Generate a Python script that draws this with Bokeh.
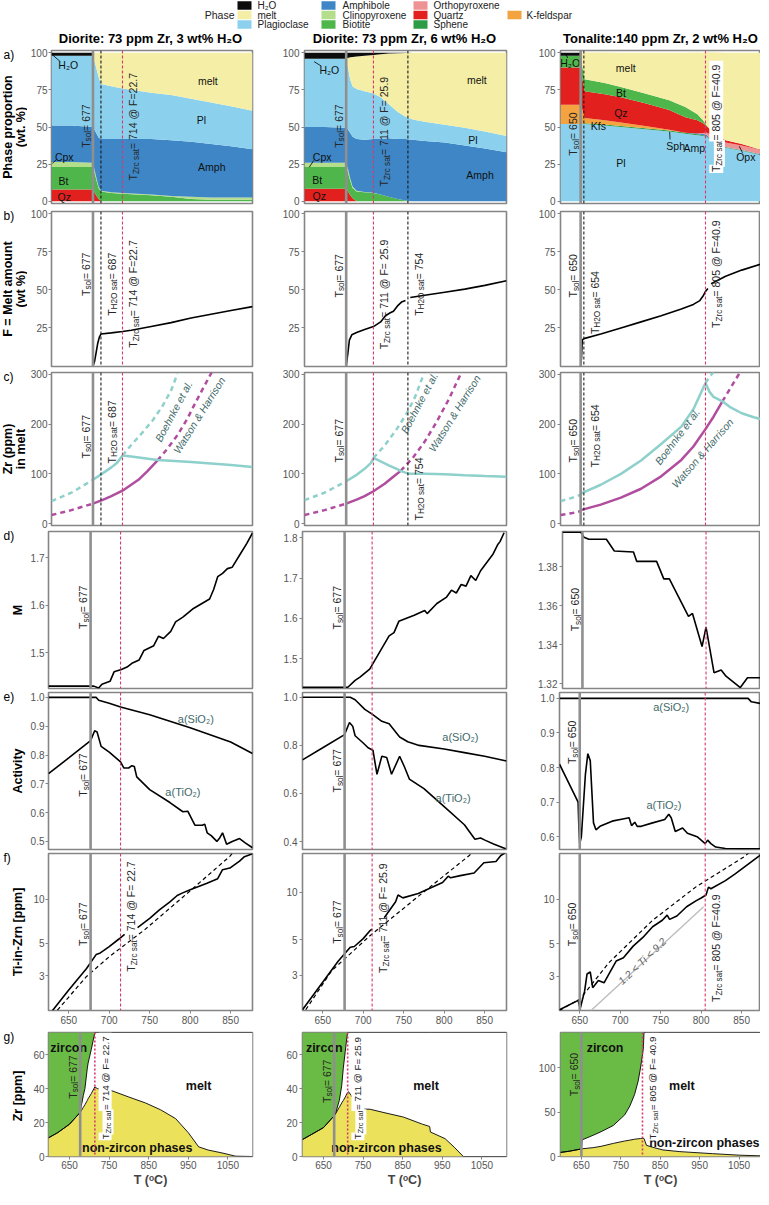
import numpy as np
from math import pi, sqrt
from bokeh.plotting import figure
from bokeh.layouts import column, row
from bokeh.models import Range1d, FixedTicker, PrintfTickFormatter, ColumnDataSource, Span
from bokeh.core.properties import value
from bokeh.embed import file_html
from bokeh.resources import INLINE

nan = float("nan")
FONT = "Liberation Sans"

# ---------------- colours ----------------
COL = {"H2O": "#0c0c0c", "melt": "#F5EEA6", "Pl": "#8BD1EE", "Amph": "#3E86C5",
       "Cpx": "#B4DE8C", "Bt": "#4FB64B", "Opx": "#EE9393", "Qz": "#E2211F",
       "Sph": "#2C9C45", "Kfs": "#F3A33F"}
TEAL = "#8ED0CB"; MAG = "#B04D9F"; RED = "#D8386B"; GREY = "#8F8F8F"
ZRC_GREEN = "#6ABB45"; NZ_YELLOW = "#ECE15B"; LTEAL = "#3F6A6A"; TXT = "#262626"

# ---------------- texts ----------------
TITLES = ["Diorite: 73 ppm Zr, 3 wt% H\u2082O", "Diorite: 73 ppm Zr, 6 wt% H\u2082O",
          "Tonalite:140 ppm Zr, 2 wt% H\u2082O"]
LEG_NAMES = ["H\u2082O", "melt", "Plagioclase", "Amphibole", "Clinopyroxene", "Biotite",
             "Orthopyroxene", "Quartz", "Sphene", "K-feldspar"]
LEG_KEYS = ["H2O", "melt", "Pl", "Amph", "Cpx", "Bt", "Opx", "Qz", "Sph", "Kfs"]
LEG_COLS = [0, 0, 0, 1, 1, 1, 2, 2, 2, 3]
LEG_ROWS = [0, 1, 2, 0, 1, 2, 0, 1, 2, 1]
ROW_LETTERS = ["a)", "b)", "c)", "d)", "e)", "f)", "g)"]
ROW_TITLES = [["Phase proportion", "(wt. %)"], ["F = Melt amount", "(wt %)"], ["Zr (ppm)", "in melt"],
              ["M"], ["Activity"], ["Ti-in-Zrn [ppm]"], ["Zr [ppm]"]]

TSOL = [677, 677, 650]
TH2O = [687, 754, 654]
TZRC = [714, 711, 805]

# ---------------- (a) phase proportions (wt%) ----------------
A1_T = [625, 650, 676, 678, 681, 684, 687, 700, 714, 750, 775, 800, 825, 850, 877]
A1 = {"Qz":   [8, 8, 8, 7, 4, 1.5, 0, 0, 0, 0, 0, 0, 0, 0, 0],
      "Bt":   [15, 15, 15, 14, 11, 7.5, 6.5, 5.5, 5, 4, 3, 1.5, 1, 1, 1],
      "Cpx":  [3.5, 3.5, 3, 2.5, 1.5, 1, 0.5, 0.5, 0.5, 0.5, 0.5, 1.5, 1.5, 1.5, 1.5],
      "Amph": [24.5, 24.5, 24, 25.5, 29.5, 33, 35, 36, 36.5, 37.5, 37.5, 37, 36, 34.5, 32.5],
      "Pl":   [47, 47, 48, 47, 44, 41, 37, 35.5, 34, 31, 30.5, 29, 28, 27, 26],
      "melt": [0, 0, 0, 4, 10, 16, 21, 22.5, 24, 27, 28.5, 31, 33.5, 36, 39],
      "H2O":  [2, 2, 2, 0, 0, 0, 0, 0, 0, 0, 0, 0, 0, 0, 0]}
A2_T = [625, 650, 676, 679, 682, 685, 690, 700, 711, 720, 730, 741, 751, 760, 775, 800, 825, 850, 877]
A2 = {"Qz":   [8.5, 8.5, 8.5, 7, 4, 2, 0, 0, 0, 0, 0, 0, 0, 0, 0, 0, 0, 0, 0],
      "Bt":   [14.5, 14.5, 14.5, 13, 10, 7, 6.5, 6, 5.5, 4.5, 3, 1.5, 0.5, 0, 0, 0, 0, 0, 0],
      "Cpx":  [3, 3, 3, 2.5, 1.5, 1, 0.5, 0.3, 0.2, 0, 0, 0, 0, 0, 0, 0, 0, 0, 0],
      "Amph": [24, 24, 23.5, 26, 30.5, 33.5, 35, 35.2, 36.3, 37.5, 39.5, 40.5, 41.5, 41.5, 40.5, 39.5, 37.5, 35.5, 33],
      "Pl":   [46, 46, 46.5, 42, 36, 33.7, 33.5, 32.5, 30.6, 28, 22.9, 18.2, 14.9, 13.5, 13, 12, 12, 11.5, 11],
      "melt": [0, 0, 0, 6, 15, 20, 22, 24, 25.9, 29, 34, 39.5, 43, 45, 46.5, 48.5, 50.5, 53, 56],
      "H2O":  [4, 4, 4, 3.5, 3, 2.8, 2.5, 2, 1.5, 1, 0.6, 0.3, 0.1, 0, 0, 0, 0, 0, 0]}
A3_T = [625, 649, 651, 655, 680, 700, 730, 760, 780, 795, 802, 806, 810, 830, 850, 874]
A3 = {"Pl":   [52, 52, 52, 52, 51, 50, 48.5, 47, 45.5, 44.5, 44, 43.5, 42, 36, 34, 31],
      "Sph":  [0, 0, 0, 0.6, 0.6, 0.6, 0.6, 0.6, 0.6, 0.6, 0.5, 0.3, 0.3, 0.3, 0.3, 0.3],
      "Amph": [0, 0, 0, 0, 0, 0, 0, 0, 0, 0.5, 1, 1, 0.5, 0.3, 0.3, 0.3],
      "Opx":  [0, 0, 0, 0, 0, 0, 0, 0, 0, 0, 0.5, 1.5, 2.5, 3, 3, 3],
      "Kfs":  [13, 13, 12, 3.5, 3, 2.5, 1.5, 0.5, 0, 0, 0, 0, 0, 0, 0, 0],
      "Qz":   [25, 25, 22, 18, 17.5, 16.9, 15.4, 13.4, 10.4, 9, 6.5, 4.5, 3.5, 1.5, 1, 0],
      "Bt":   [8, 8, 8, 8, 7.5, 7, 6.5, 6.5, 7, 4, 2, 0.5, 0, 0, 0, 0],
      "melt": [0, 0, 6, 18, 20.5, 23, 27.5, 32, 36.5, 41.5, 45.5, 49, 51.5, 58.9, 61.4, 65.4],
      "H2O":  [2, 2, 0, 0, 0, 0, 0, 0, 0, 0, 0, 0, 0, 0, 0, 0]}
A_ORDER = [["Qz", "Bt", "Cpx", "Amph", "Pl", "melt", "H2O"],
           ["Qz", "Bt", "Cpx", "Amph", "Pl", "melt", "H2O"],
           ["Pl", "Sph", "Amph", "Opx", "Kfs", "Qz", "Bt", "melt", "H2O"]]
# phase labels: (text, T, wt%)
A_LABELS = [[("H\u2082O", 646, 91.5), ("melt", 821, 81), ("Pl", 813, 55), ("Amph", 826, 23),
             ("Cpx", 641, 29.5), ("Bt", 640, 13.5), ("Qz", 641, 3)],
            [("H\u2082O", 656, 88.7), ("melt", 840, 81.6), ("Pl", 835, 41.5), ("Amph", 844, 17.7),
             ("Cpx", 647, 30), ("Bt", 641, 14), ("Qz", 643.5, 3.7)],
            [("H\u2082O", 637, 93), ("melt", 706, 90), ("Bt", 700, 73), ("Qz", 700, 59.7),
             ("Kfs", 672, 50.6), ("Sph", 768, 37), ("Amp", 791, 36), ("Opx", 855, 29.5), ("Pl", 700, 25.5)]]
A_LEADERS = [[(626, 98.7, 636, 94), (626, 25.5, 631, 28)],
             [(637, 94, 646, 91), (631, 23, 636.5, 27.4)],
             [(631, 99.5, 634, 96.5), (760.5, 46.8, 761, 41.6), (847, 37, 851, 32.6)]]

# ---------------- (b) melt fraction F ----------------
B_T = [[677, 679, 681, 683, 685, 687, 700, 714, 725, 750, 775, 800, 825, 850, 877],
       [677, 679, 681, 684, 690, 700, 711, 720, 726, 732, 736, 741, 746, 751, 754, 757, 775, 800, 825, 850, 877],
       [650, 651, 652, 654, 675, 700, 725, 750, 775, 790, 798, 802, 805, 808, 810, 812, 830, 850, 874]]
B_F = [[0, 3, 9, 15, 19, 21, 21.8, 22.7, 23.5, 26, 28.5, 31.5, 34, 36.5, 39],
       [0, 8, 17, 20.5, 22, 24, 25.9, 29, 33, 35, 36, 39.5, 42, 43, nan, 45, 46.5, 48.5, 50.5, 53, 56],
       [0, 5, 17, 18, 21, 25, 29, 33, 37.5, 40.5, 43, 46, 49, 51, nan, 54, 59, 63, 67]]

# ---------------- (c) Zr in melt ----------------
C_BO_LO_T = [[625, 650, 677], [625, 650, 677], [625, 640, 650]]
C_BO_LO = [[45, 62, 88], [47, 62, 85], [45, 52, 58]]
C_BO_SAT_T = [[677, 690, 700, 707, 714], [677, 690, 700, 708, 711], [650, 675, 700, 725, 750, 775, 790, 805]]
C_BO_SAT = [[88, 102, 113, 122, 137], [85, 98, 110, 122, 132], [60, 78, 100, 127, 160, 195, 230, 283]]
C_BO_HI_T = [[714, 725, 740, 752, 764, 775, 783], [711, 725, 740, 752, 763, 774], [805, 810, 815]]
C_BO_HI = [[137, 158, 185, 208, 236, 268, 302], [132, 157, 190, 220, 255, 302], [283, 295, 305]]
C_MELT_T = [[714, 725, 758, 800, 850, 877],
            [711, 720, 730, 740, 745, 750, 754, 756, 775, 800, 825, 850, 877],
            [805, 810, 815, 826, 835, 850, 865, 874]]
C_MELT = [[137, 135, 128, 124, 118, 114],
          [132, 125, 117, 110, 106, 103, 101, 100, 100, 99, 97, 95.5, 94],
          [283, 265, 255, 246, 235, 222, 214, 210]]
C_WH_LO_T = [[625, 650, 677], [625, 650, 677], [625, 640, 650]]
C_WH_LO = [[17, 27, 40], [17, 27, 40], [17, 21, 25]]
C_WH_SAT_T = [[677, 690, 700, 714, 734, 745, 758], [677, 690, 700, 711, 725, 735, 745],
              [650, 675, 700, 725, 750, 775, 790, 805, 815, 826]]
C_WH_SAT = [[40, 48, 55, 66, 88, 105, 127], [40, 48, 55, 65, 80, 93, 106],
            [27, 38, 52, 70, 95, 128, 155, 190, 215, 246]]
C_WH_HI_T = [[758, 770, 783, 795, 806, 816, 826], [745, 760, 775, 790, 805, 821], [826, 835, 847]]
C_WH_HI = [[127, 150, 178, 210, 245, 275, 305], [106, 132, 165, 205, 250, 305], [246, 270, 302]]
C_BO_LAB = [(778, 226, 62), (768, 243, 62), (770, 175, 53)]
C_WH_LAB = [(810, 218, 58), (812, 222, 58), (801, 142, 49)]

# ---------------- (d) M ----------------
D_T = [[625, 677, 681, 687, 691, 701, 706, 715, 722, 728, 737, 743, 755, 761, 767, 776, 782, 791, 803, 824, 829, 834, 840, 846, 852, 861, 870, 877],
       [625, 681, 690, 696, 708, 732, 738, 744, 763, 776, 779, 791, 803, 809, 815, 821, 827, 833, 839, 845, 851, 860, 866, 869, 874],
       [625, 648, 652, 658, 680, 690, 714, 718, 743, 752, 759, 783, 788, 800, 805, 815, 824, 830, 848, 857, 874]]
D_M = [[1.43, 1.43, 1.43, 1.426, 1.434, 1.44, 1.46, 1.465, 1.47, 1.478, 1.485, 1.505, 1.515, 1.535, 1.53, 1.545, 1.565, 1.575, 1.592, 1.613, 1.633, 1.66, 1.667, 1.677, 1.68, 1.705, 1.73, 1.752],
       [1.43, 1.43, 1.447, 1.455, 1.475, 1.557, 1.565, 1.593, 1.608, 1.62, 1.612, 1.637, 1.653, 1.67, 1.663, 1.684, 1.68, 1.706, 1.694, 1.718, 1.734, 1.758, 1.782, 1.79, 1.812],
       [1.3976, 1.3976, 1.395, 1.394, 1.394, 1.388, 1.3875, 1.3827, 1.3827, 1.3737, 1.3737, 1.3545, 1.356, 1.339, 1.349, 1.3256, 1.327, 1.3238, 1.318, 1.323, 1.323]]

# ---------------- (e) activities ----------------
E_SI_T = [[625, 684, 687, 700, 714, 750, 800, 850, 877],
          [625, 684, 690, 702, 711, 723, 732, 745, 755, 769, 800, 825, 850, 877],
          [625, 858, 862, 874]]
E_SI = [[1.0, 1.0, 0.99, 0.98, 0.967, 0.94, 0.895, 0.845, 0.805],
        [1.0, 1.0, 0.99, 0.95, 0.93, 0.90, 0.89, 0.835, 0.815, 0.80, 0.785, 0.77, 0.755, 0.735],
        [1.0, 1.0, 0.99, 0.985]]
E_TI_T = [[625, 650, 677, 682, 685, 690, 700, 714, 718, 724, 728, 731, 734, 750, 775, 791, 797, 806, 815, 818, 821, 826, 833, 836, 840, 845, 852, 861, 868, 877],
          [625, 650, 677, 683, 687, 690, 700, 706, 712, 717, 723, 729, 735, 745, 751, 757, 775, 800, 825, 838, 845, 851, 861, 876],
          [625, 648, 649, 650, 652, 657, 660, 663, 667, 670, 675, 690, 700, 711, 714, 718, 721, 726, 740, 755, 760, 763, 768, 777, 783, 795, 800, 805, 808, 812, 818, 830, 850, 874]]
E_TI = [[0.735, 0.79, 0.85, 0.884, 0.88, 0.83, 0.81, 0.776, 0.755, 0.755, 0.763, 0.76, 0.724, 0.68, 0.635, 0.603, 0.605, 0.556, 0.556, 0.56, 0.53, 0.52, 0.50, 0.51, 0.53, 0.49, 0.50, 0.51, 0.495, 0.478],
        [0.74, 0.79, 0.845, 0.895, 0.88, 0.84, 0.81, 0.79, 0.78, 0.68, 0.755, 0.75, 0.68, 0.755, 0.71, 0.66, 0.62, 0.545, 0.47, 0.41, 0.415, 0.405, 0.39, 0.37],
        [0.81, 0.70, 0.62, 0.58, 0.60, 0.78, 0.84, 0.82, 0.64, 0.62, 0.63, 0.645, 0.65, 0.655, 0.632, 0.642, 0.63, 0.63, 0.64, 0.65, 0.665, 0.655, 0.615, 0.625, 0.61, 0.60, 0.59, 0.58, 0.59, 0.58, 0.57, 0.566, 0.565, 0.565]]
E_SI_LAB = [(807, 0.925), (820, 0.833), (763, 0.974)]
E_TI_LAB = [(791, 0.672), (811, 0.583), (754, 0.693)]

# ---------------- (f) Ti-in-zircon ----------------
F_T = [[630, 650, 672, 684, 689, 700, 712, 719, 727, 735, 750, 762, 775, 784, 790, 800, 820, 834, 840, 849, 861, 867, 877],
       [625, 669, 684, 689, 700, 708, 711, 718, 726, 740, 743, 749, 768, 798, 805, 808, 820, 837, 849, 864, 870, 875],
       [625, 648, 650.5, 656, 659, 663, 666, 673, 680, 686, 695, 704, 716, 728, 740, 752, 758, 761, 770, 782, 794, 800, 806, 809, 812, 830, 842, 871, 874]]
F_TI = [[1.74, 2.4, 3.37, 4.2, 4.3, 4.75, 5.35, 5.75, nan, 6.4, 7.4, 8.45, 9.6, 10.6, 11.0, 11.6, 12.8, 13.8, 15.9, 16.3, 18.2, 19.5, 20.4],
        [1.82, 3.67, 4.5, 4.55, 5.1, 5.7, 5.85, nan, 6.9, 8.7, 9.6, 9.2, 9.8, 11.5, 12.6, 12.3, 12.7, 13.2, 15.3, 15.6, 17.0, 17.6],
        [1.77, 2.05, 1.8, 2.37, 3.1, 3.2, 2.5, 2.8, 2.7, 3.1, 3.8, 4.0, 4.8, 5.5, 6.5, 7.2, 7.8, 7.3, 7.7, 8.9, 9.8, 10.2, 10.7, 12.1, 11.8, 13.4, 14.9, 19.6, 20.2]]
FD_T = [[636, 672, 700, 744, 800, 849, 855], [629, 661, 708, 768, 831, 836], [625, 650.5, 686, 740, 794, 854, 860]]
FD_TI = [[1.75, 2.97, 4.05, 6.2, 11.4, 19.6, 21.5], [1.82, 3.2, 5.3, 9.4, 17.0, 18.0], [1.75, 2.1, 3.7, 7.2, 12.2, 19.6, 21]]
F_RANGE_T = [664, 803]
F_RANGE_TI = [1.75, 8.9]

# ---------------- (g) Zr budget ----------------
G_T = [[597, 620, 650, 677, 680, 685, 689, 695, 697, 705, 714, 720, 730, 757, 800, 842, 880, 918, 950, 976, 1000, 1035, 1069, 1112],
       [597, 620, 650, 677, 680, 690, 696, 700, 705, 709, 711, 713, 720, 726, 739, 741, 768, 800, 852, 900, 918, 920, 957, 980, 1003, 1112],
       [597, 620, 647, 650, 652, 680, 700, 731, 760, 773, 785, 794, 800, 807, 809, 815, 830, 857, 900, 983, 1050, 1107]]
G_NZ = [[11, 14, 19, 26, 27, 29, 30.5, 33, 34, 37, 41, 40, 39.5, 38.7, 35, 31.5, 27.5, 22.3, 14, 5.7, 3.8, 2.1, 0.2, 0],
        [10, 13, 17, 24, 25, 29, 31.5, 33, 35, 37, 37.5, 38.2, 36, 33.4, 27.8, 28, 27.8, 26, 23.2, 19, 17.7, 14.4, 10.5, 5.5, 0, 0],
        [4.6, 6, 8.3, 8.5, 8.7, 10, 11.5, 14.8, 17.5, 18.5, 19.5, 20, 20.3, 20.5, 20.3, 12.7, 10.5, 7.4, 5.5, 3.2, 1.5, 0.7]]
G_MELT = [[0, 0, 0, 0, 3, 7, 9.5, 19, 21, 26, 32, 33, 33.5, 34.3, 38, 41.5, 45.5, 50.7, 59, 67.3, 69.2, 70.9, 72.8, 73],
          [0, 0, 0, 0, 0, 4, 10.2, 19, 27, 33, 35.5, 34.8, 37, 39.6, 45.2, 45, 45.2, 47, 49.8, 54, 55.3, 58.6, 62.5, 67.5, 73, 73],
          [0, 0, 0, 0, 10.1, 14, 16.5, 20.2, 29.5, 38.5, 50.5, 65, 79.7, 100.5, 119.7, 127.3, 129.5, 132.6, 134.5, 136.8, 138.5, 139.3]]
G_ZRC = [[62, 59, 54, 47, 43, 37, 33, 21, 18, 10, 0, 0, 0, 0, 0, 0, 0, 0, 0, 0, 0, 0, 0, 0],
         [63, 60, 56, 49, 48, 40, 31.3, 21, 11, 3, 0, 0, 0, 0, 0, 0, 0, 0, 0, 0, 0, 0, 0, 0, 0, 0],
         [135.4, 134, 131.7, 131.5, 121.2, 116, 112, 105, 93, 83, 70, 55, 40, 19, 0, 0, 0, 0, 0, 0, 0, 0]]
G_LABELS = [[("zircon", 648, 63.6), ("melt", 976, 41.6), ("non-zircon phases", 821, 5.2)],
            [("zircon", 652, 63.6), ("melt", 909, 41.6), ("non-zircon phases", 809, 5.2)],
            [("zircon", 710, 122), ("melt", 905, 80), ("non-zircon phases", 962, 14.8)]]

# ---------------- layout geometry ----------------
GUTTER_W = 27
WIDTHS = [252, 256, 225]
LB = [21, 23, 24]
RB = [27, 29, 0]
XR = [(625, 877), (625, 877), (625, 873.3)]
XRG = [(597, 1112), (597, 1112), (597, 1104.5)]
ROW_H = [161, 161, 161, 161, 161, 176, 162]
ROW_TOPB = [4, 4, 4, 2, 2, 2, 5]
ROW_BOTB = [4, 2, 4, 2, 2, 17, 30]
ROW_FRAME_H = [153, 155, 153, 157, 157, 157, 127]

# character widths (Arial metrics, 1/1000 em)
CW = {' ': 278, '=': 584, '@': 1015, '.': 278, 'T': 611, 'F': 611, 'Z': 611, 'H': 722, 'O': 778,
      'r': 333, 'c': 500, 's': 500, 'a': 556, 't': 278, 'o': 556, 'l': 222, 'i': 222}


def tw(s, fs):
    return sum(CW.get(ch, 556) for ch in s) * fs / 1000.0


def mkfig(ci, k, xr, yr, ylog=False, xaxis=False):
    p = figure(width=WIDTHS[ci], height=ROW_H[k], title=None,
               x_range=Range1d(*xr), y_range=Range1d(*yr),
               y_axis_type=("log" if ylog else "linear"),
               x_axis_location=("below" if xaxis else None),
               output_backend="svg", toolbar_location=None,
               min_border_left=LB[ci], min_border_right=RB[ci],
               min_border_top=ROW_TOPB[k], min_border_bottom=ROW_BOTB[k])
    p.grid.visible = False
    p.outline_line_color = "#858585"
    p.outline_line_width = 1.6
    p.background_fill_color = "white"
    p.border_fill_color = "white"
    for ax in p.axis:
        ax.axis_line_color = None
        ax.major_tick_line_color = "#858585"
        ax.major_tick_out = 3
        ax.major_tick_in = 0
        ax.minor_tick_line_color = None
        ax.major_label_text_font = FONT
        ax.major_label_text_font_size = "10px"
        ax.major_label_text_color = "#555555"
        ax.major_label_standoff = 2
    if ci == 0:
        p.yaxis.major_label_standoff = 1
    return p


def vlines(p, ci, h2o=True, gpanel=False):
    p.add_layout(Span(location=TSOL[ci], dimension="height", line_color=GREY, line_width=2.6))
    if h2o:
        p.add_layout(Span(location=TH2O[ci], dimension="height", line_color="#1a1a1a",
                          line_width=1.1, line_dash="3 2"))
    p.add_layout(Span(location=TZRC[ci], dimension="height", line_color=RED,
                      line_width=(1.6 if gpanel else 1.1), line_dash=("2 2" if gpanel else "3 2")))


def vlabel(p, x, y, parts, side="right", fs=10.5, color=TXT, bg=False, gap=3):
    sub = fs * 0.78
    if side == "right":
        base = gap + 0.74 * fs
    else:
        base = -(gap + 0.42 * fs)
    cum = 0.0
    for txt, is_sub in parts:
        size = sub if is_sub else fs
        xo = base + (0.3 * fs if is_sub else 0.0)
        kw = {}
        if bg:
            kw = dict(background_fill_color="white", padding=1)
        p.text(x=[x], y=[y], text=[txt], angle=pi / 2, x_offset=xo, y_offset=-cum,
               text_align="left", text_baseline="alphabetic", text_font=value(FONT),
               text_font_size="%.1fpx" % size, text_color=color, **kw)
        cum += tw(txt, size)


def tsol_parts(ci):
    return [("T", 0), ("sol", 1), ("= %d" % TSOL[ci], 0)]


def tzrc_parts(ci, ftxt):
    return [("T", 0), ("Zrc sat", 1), (" = %d @ %s" % (TZRC[ci], ftxt), 0)]


def th2o_parts(ci):
    return [("T", 0), ("H2O sat", 1), (" = %d" % TH2O[ci], 0)]


def htext(p, x, y, t, fs="10.5px", color="black", bold=False, italic=False, angle=0.0, align="center"):
    style = "bold" if bold else ("italic" if italic else "normal")
    p.text(x=[x], y=[y], text=[t], angle=angle, text_align=align, text_baseline="middle",
           text_font=value(FONT), text_font_size=fs, text_color=color, text_font_style=style)


def yticks(p, ticks, fmt=None):
    p.yaxis.ticker = FixedTicker(ticks=ticks, minor_ticks=[])
    if fmt:
        p.yaxis.formatter = PrintfTickFormatter(format=fmt)


rows = []

# ---------------- header (legend + titles) ----------------
hdr = figure(width=760, height=46, x_range=Range1d(0, 760), y_range=Range1d(46, 0), title=None,
             output_backend="svg", toolbar_location=None, min_border=0,
             x_axis_location=None, y_axis_location=None)
hdr.grid.visible = False
hdr.outline_line_color = None
SW_X = [244, 328, 420, 514]
TX_X = [257, 342, 433, 526]
ROW_Y = [5, 14.5, 24]
hdr.rect(x=[SW_X[c] for c in LEG_COLS], y=[ROW_Y[r] for r in LEG_ROWS], width=14, height=8.5,
         fill_color=[COL[k] for k in LEG_KEYS], line_color=None)
hdr.text(x=[TX_X[c] for c in LEG_COLS], y=[ROW_Y[r] for r in LEG_ROWS], text=LEG_NAMES,
         text_align="left", text_baseline="middle", text_font=value(FONT), text_font_size="10px",
         text_color="#222222")
hdr.text(x=[234], y=[14.5], text=["Phase"], text_align="right", text_baseline="middle",
         text_font=value(FONT), text_font_size="10.5px", text_color="#222222")
hdr.text(x=[150, 404, 660], y=[38, 38, 38], text=TITLES, text_align="center", text_baseline="middle",
         text_font=value(FONT), text_font_size="13px", text_font_style="bold", text_color="black")

# ---------------- left gutter: row letters and y titles ----------------
GH = sum(ROW_H)
gut = figure(width=GUTTER_W, height=GH, x_range=Range1d(0, GUTTER_W), y_range=Range1d(GH, 0), title=None,
             output_backend="svg", toolbar_location=None, min_border=0,
             x_axis_location=None, y_axis_location=None)
gut.grid.visible = False
gut.outline_line_color = None
top = 0
for k in range(7):
    ftop = top + ROW_TOPB[k]
    fmid = ftop + ROW_FRAME_H[k] / 2.0
    gut.text(x=[3], y=[ftop + 4], text=[ROW_LETTERS[k]], text_align="left", text_baseline="middle",
             text_font=value(FONT), text_font_size="12px", text_color="black")
    lines = ROW_TITLES[k]
    xs = [17] if len(lines) == 1 else [7.5, 20]
    for t, xx in zip(lines, xs):
        gut.text(x=[xx], y=[fmid], text=[t], angle=pi / 2, text_align="center", text_baseline="middle",
                 text_font=value(FONT), text_font_size="12.5px", text_font_style="bold", text_color="black")
    top += ROW_H[k]

# ---------------- row a ----------------
ra = []
FZ_A = ["F=22.7", "F= 25.9", "F=40.9"]
A_TS = [A1_T, A2_T, A3_T]
A_DS = [A1, A2, A3]
A_TSOL_Y = [36, 36, 30.6]
A_TZRC_Y = [14, 10, 19]
for ci in range(3):
    yr = (-1.5, 101.5)
    p = mkfig(ci, 0, XR[ci], yr)
    yticks(p, [0, 25, 50, 75, 100])
    d = dict(A_DS[ci]); d["T"] = A_TS[ci]
    src = ColumnDataSource(d)
    p.varea_stack(stackers=A_ORDER[ci], x="T", color=[COL[k] for k in A_ORDER[ci]], source=src)
    vlines(p, ci)
    for (x0, y0, x1, y1) in A_LEADERS[ci]:
        p.segment(x0=[x0], y0=[y0], x1=[x1], y1=[y1], line_color="black", line_width=0.8)
    for (t, x, y) in A_LABELS[ci]:
        htext(p, x, y, t, fs="10.5px", color="#111111")
    vlabel(p, TSOL[ci], A_TSOL_Y[ci], tsol_parts(ci), side="left")
    vlabel(p, TZRC[ci], A_TZRC_Y[ci], tzrc_parts(ci, FZ_A[ci]), side="right", bg=(ci == 2))
    ra.append(p)
rows.append(row(*ra))

# ---------------- row b ----------------
rb = []
FZ_B = ["F=22.7", "F= 25.9", "F=40.9"]
B_TSOL_Y = [46, 45, 45]
B_TH2O_Y = [33, 33, 21]
B_TZRC_Y = [12, 11, 25]
for ci in range(3):
    yr = (-0.3, 101.5)
    p = mkfig(ci, 1, XR[ci], yr)
    yticks(p, [25, 50, 75, 100])
    vlines(p, ci)
    p.line(B_T[ci], B_F[ci], line_color="black", line_width=1.6)
    vlabel(p, TSOL[ci], B_TSOL_Y[ci], tsol_parts(ci), side="left")
    vlabel(p, TH2O[ci], B_TH2O_Y[ci], th2o_parts(ci), side="right")
    vlabel(p, TZRC[ci], B_TZRC_Y[ci], tzrc_parts(ci, FZ_B[ci]), side="right")
    rb.append(p)
rows.append(row(*rb))

# ---------------- row c ----------------
rc = []
C_TSOL_Y = [131, 123, 123]
C_TH2O_Y = [121, 6, 113]
for ci in range(3):
    yr = (-4, 304)
    p = mkfig(ci, 2, XR[ci], yr)
    yticks(p, [0, 100, 200, 300])
    vlines(p, ci)
    p.line(C_BO_LO_T[ci], C_BO_LO[ci], line_color=TEAL, line_width=2.5, line_dash="5 4")
    p.line(C_BO_HI_T[ci], C_BO_HI[ci], line_color=TEAL, line_width=2.5, line_dash="5 4")
    p.line(C_WH_LO_T[ci], C_WH_LO[ci], line_color=MAG, line_width=2.5, line_dash="5 4")
    p.line(C_WH_HI_T[ci], C_WH_HI[ci], line_color=MAG, line_width=2.5, line_dash="5 4")
    p.line(C_WH_SAT_T[ci], C_WH_SAT[ci], line_color=MAG, line_width=2.5)
    p.line(C_BO_SAT_T[ci], C_BO_SAT[ci], line_color=TEAL, line_width=2.5)
    p.line(C_MELT_T[ci], C_MELT[ci], line_color=TEAL, line_width=2.5)
    bx, by, ba = C_BO_LAB[ci]
    htext(p, bx, by, "Boehnke et al.", fs="10.5px", color=LTEAL, italic=True, angle=ba * pi / 180)
    wx, wy, wa = C_WH_LAB[ci]
    htext(p, wx, wy, "Watson & Harrison", fs="10.5px", color=LTEAL, italic=True, angle=wa * pi / 180)
    vlabel(p, TSOL[ci], C_TSOL_Y[ci], tsol_parts(ci), side="left")
    vlabel(p, TH2O[ci], C_TH2O_Y[ci], th2o_parts(ci), side="right")
    rc.append(p)
rows.append(row(*rc))

# ---------------- row d ----------------
rd = []
D_YR = [(1.425, 1.755), (1.427, 1.815), (1.3175, 1.398)]
D_TICKS = [[1.5, 1.6, 1.7], [1.5, 1.6, 1.7, 1.8], [1.32, 1.34, 1.36, 1.38]]
D_TSOL_Y = [1.55, 1.573, 1.3468]
for ci in range(3):
    p = mkfig(ci, 3, XR[ci], D_YR[ci])
    yticks(p, D_TICKS[ci])
    vlines(p, ci, h2o=False)
    p.line(D_T[ci], D_M[ci], line_color="black", line_width=1.6)
    vlabel(p, TSOL[ci], D_TSOL_Y[ci], tsol_parts(ci), side="left")
    rd.append(p)
rows.append(row(*rd))

# ---------------- row e ----------------
re_ = []
E_YR = [(0.472, 1.017), (0.367, 1.02), (0.563, 1.017)]
E_TICKS = [[0.5, 0.6, 0.7, 0.8, 0.9, 1.0], [0.4, 0.6, 0.8, 1.0], [0.6, 0.7, 0.8, 0.9, 1.0]]
E_TSOL_Y = [0.655, 0.604, 0.81]
for ci in range(3):
    p = mkfig(ci, 4, XR[ci], E_YR[ci])
    yticks(p, E_TICKS[ci], fmt="%.1f")
    vlines(p, ci, h2o=False)
    p.line(E_SI_T[ci], E_SI[ci], line_color="black", line_width=1.6)
    p.line(E_TI_T[ci], E_TI[ci], line_color="black", line_width=1.6)
    sx, sy = E_SI_LAB[ci]
    htext(p, sx, sy, "a(SiO\u2082)", fs="11px", color=LTEAL)
    tx, ty = E_TI_LAB[ci]
    htext(p, tx, ty, "a(TiO\u2082)", fs="11px", color=LTEAL)
    vlabel(p, TSOL[ci], E_TSOL_Y[ci], tsol_parts(ci), side="left")
    re_.append(p)
rows.append(row(*re_))

# ---------------- row f ----------------
rf = []
F_YR = [(1.74, 20.5), (1.8, 17.5), (1.75, 20.5)]
FZ_F = ["F= 22.7", "F= 25.9", "F=40.9"]
F_TSOL_Y = [4.8, 4.73, 4.8]
F_TZRC_Y = [3.2, 3.1, 2.0]
for ci in range(3):
    p = mkfig(ci, 5, XR[ci], F_YR[ci], ylog=True, xaxis=True)
    yticks(p, [3, 5, 10], fmt="%d")
    p.xaxis.ticker = FixedTicker(ticks=[650, 700, 750, 800, 850], minor_ticks=[])
    vlines(p, ci, h2o=False)
    if ci == 2:
        p.line(F_RANGE_T, F_RANGE_TI, line_color="#bdbdbd", line_width=1.4)
        htext(p, 727, 3.8, "1.2 < Ti < 9.2", fs="10.5px", color="#666666", italic=True, angle=44 * pi / 180)
    p.line(FD_T[ci], FD_TI[ci], line_color="black", line_width=1.2, line_dash="4 3")
    p.line(F_T[ci], F_TI[ci], line_color="black", line_width=1.6)
    vlabel(p, TSOL[ci], F_TSOL_Y[ci], tsol_parts(ci), side="left")
    vlabel(p, TZRC[ci], F_TZRC_Y[ci], tzrc_parts(ci, FZ_F[ci]), side="right")
    rf.append(p)
rows.append(row(*rf))

# ---------------- row g ----------------
rg = []
G_YR = [(0, 73), (0, 73), (0, 140)]
G_TICKS = [[0, 20, 40, 60], [0, 20, 40, 60], [0, 50, 100]]
FZ_G = ["F= 22.7", "F= 25.9", "F= 40.9"]
G_TSOL_Y = [34, 31.5, 68]
G_TZRC_Y = [9.5, 9.5, 18]
for ci in range(3):
    p = mkfig(ci, 6, XRG[ci], G_YR[ci], xaxis=True)
    yticks(p, G_TICKS[ci])
    p.xaxis.ticker = FixedTicker(ticks=[650, 750, 850, 950, 1050], minor_ticks=[])
    p.xaxis.axis_label = "T (\u1d52C)"
    p.xaxis.axis_label_text_font = FONT
    p.xaxis.axis_label_text_font_size = "12.5px"
    p.xaxis.axis_label_text_font_style = "bold"
    p.xaxis.axis_label_standoff = 1
    p.xaxis.major_label_standoff = 1
    src = ColumnDataSource(dict(T=G_T[ci], nz=G_NZ[ci], melt=G_MELT[ci], zrc=G_ZRC[ci]))
    p.varea_stack(stackers=["nz", "melt", "zrc"], x="T", color=[NZ_YELLOW, "white", ZRC_GREEN], source=src)
    p.vline_stack(stackers=["nz", "melt"], x="T", color="black", line_width=0.9, source=src)
    vlines(p, ci, h2o=False, gpanel=True)
    for (t, x, y) in G_LABELS[ci]:
        htext(p, x, y, t, fs="12.5px", color="#111111", bold=True)
    vlabel(p, TSOL[ci], G_TSOL_Y[ci], tsol_parts(ci), side="left", fs=10.5)
    vlabel(p, TZRC[ci], G_TZRC_Y[ci], tzrc_parts(ci, FZ_G[ci]), side="right", fs=9.8, bg=True)
    rg.append(p)
rows.append(row(*rg))

layout = column(hdr, row(gut, column(*rows)))
open("out.html", "w").write(file_html(layout, INLINE))
